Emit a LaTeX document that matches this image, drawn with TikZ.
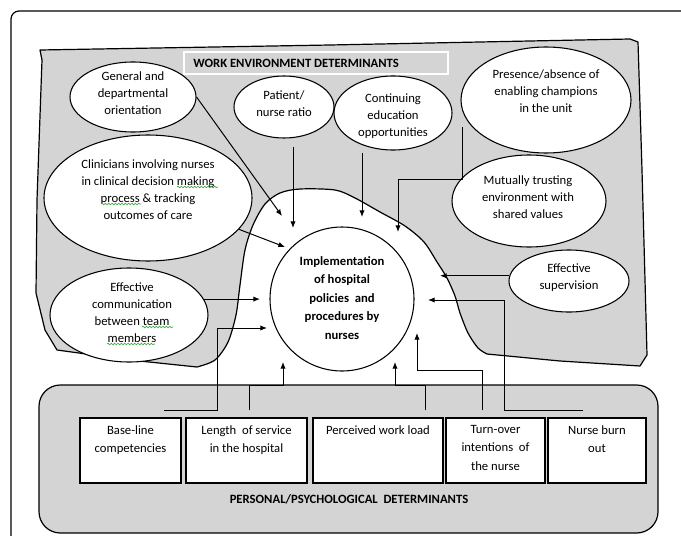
\documentclass[tikz,border=0pt]{standalone}
\usepackage{fontspec}
\setmainfont{Carlito}
\usetikzlibrary{shapes.geometric,arrows.meta,decorations.pathmorphing}
\definecolor{regiongray}{RGB}{212,212,212}
\definecolor{spell}{RGB}{70,170,70}
\begin{document}
\begin{tikzpicture}[x=0.75pt,y=-0.75pt,
  region/.style={draw=black, fill=regiongray, line width=0.9pt, line join=round},
  ell/.style n args={2}{ellipse, draw=black, fill=white, line width=0.8pt,
     minimum width={#1*0.75pt}, minimum height={#2*0.75pt}, inner sep=0pt},
  txt/.style={font=\fontsize{9.5}{12.75}\selectfont, align=center, inner sep=0pt},
  btxt/.style={font=\fontsize{9.5}{13.9}\selectfont\bfseries, align=center, inner sep=0pt},
  boxtxt/.style={font=\fontsize{9.5}{13.9}\selectfont, align=center, inner sep=0pt, anchor=north},
  pbox/.style={draw=black, fill=white, line width=0.8pt, minimum height={65*0.75pt},
     minimum width={#1*0.75pt}, inner sep=0pt},
  arr/.style={draw=black, line width=0.75pt, -{Latex[length=5pt,width=4pt]}},
  spellchk/.style={draw=spell, line width=0.5pt, decorate,
     decoration={snake, amplitude=0.6pt, segment length=2.5pt}}
]
\useasboundingbox (0,0) rectangle (681,535);
\begin{scope}
  \clip (0,0) rectangle (681,535);
  \draw[line width=0.9pt, rounded corners=6pt] (11,11) rectangle (720,580);
\end{scope}

% ---------------- work environment region ----------------
\draw[region] (40,50) -- (330,45) -- (630,39) -- (638,42) -- (642,170) -- (645,280)
  -- (647,355) -- (640,366) -- (560,361) --
  plot[smooth, tension=0.5] coordinates {(487,354) (478,348) (468,333) (460,313)
  (455,296) (447,278) (437,262) (424,242) (405,226) (380,212) (355,198) (335,190)
  (300,189) (280,193) (265,204) (253,225) (245,250) (240,285) (236,315) (228,342)
  (215,360) (197,367)}
  -- (130,360) -- (57,350) -- (45,330) -- (36,293) -- (37,200) -- (42,60) -- cycle;

\node[draw=white, fill=regiongray, line width=0.9pt, minimum width={264*0.75pt},
  minimum height={22*0.75pt}, inner sep=0pt] (wbox) at (316,63) {};
\node[btxt, anchor=west] (wtitle) at (193,63) {WORK ENVIRONMENT DETERMINANTS};

% ellipses
\node[ell={126}{70}] (gen) at (133,97) {};
\node[txt] (gent) at (133,93) {General and\\departmental\\orientation};
\node[ell={100}{62}] (pat) at (284,107) {};
\node[txt] (patt) at (284,104) {Patient/\\nurse ratio};
\node[ell={118}{74}] (cont) at (393,113) {};
\node[txt] (contt) at (393,116) {Continuing\\education\\opportunities};
\node[ell={170}{106}] (pres) at (546,100) {};
\node[txt] (prest) at (546,91) {Presence/absence of\\enabling champions\\in the unit};
\node[ell={208}{126}] (clin) at (148,198) {};
\node[txt] (clint) at (148,190) {Clinicians involving nurses\\in clinical decision making\\process \& tracking\\outcomes of care};
\node[ell={154}{92}] (mut) at (529,201) {};
\node[txt] (mutt) at (528,197) {Mutually trusting\\environment with\\shared values};
\node[ell={120}{62}] (sup) at (569,281) {};
\node[txt] (supt) at (569,278) {Effective\\supervision};
\node[ell={158}{94}] (comm) at (129,315) {};
\node[txt] (commt) at (132,313) {Effective\\communication\\between team\\members};

% spell-check marks
\draw[spellchk] (177,187) -- (218,187);
\draw[spellchk] (101,204) -- (141,204);
\draw[spellchk] (142,327) -- (173,327);
\draw[spellchk] (107,344) -- (155,344);

% central circle
\node[circle, draw=black, fill=white, line width=0.8pt, minimum size={144*0.75pt},
  inner sep=0pt] (impl) at (342,299) {};
\node[btxt] (implt) at (342,298) {Implementation\\of hospital\\policies~ and\\procedures by\\nurses};

% ---------------- personal region ----------------
\draw[region, rounded corners=16pt] (39,385) rectangle (658,533);
\node[pbox=101] (b1) at (130.5,450.5) {};
\node[pbox=121] (b2) at (246.5,450.5) {};
\node[pbox=130] (b3) at (378,450.5) {};
\node[pbox=99]  (b4) at (495.5,450.5) {};
\node[pbox=98]  (b5) at (597,450.5) {};
\node[boxtxt] (b1t) at (130.5,425) {Base-line\\competencies};
\node[boxtxt] (b2t) at (246.5,425) {Length~ of service\\in the hospital};
\node[boxtxt] (b3t) at (378,425) {Perceived work load};
\node[boxtxt] (b4t) at (495.5,425) {Turn-over\\intentions~ of\\the nurse};
\node[boxtxt] (b5t) at (597,425) {Nurse burn\\out};
\node[btxt] (ptitle) at (349,499) {PERSONAL/PSYCHOLOGICAL~ DETERMINANTS};

% ---------------- connectors ----------------
\coordinate (genT) at (282,216);
\draw[arr] (gen.east) -- (genT);
\coordinate (patS) at (293,147);
\coordinate (patT) at (293,228);
\draw[arr] (patS) -- (patT);
\coordinate (contS) at (362,153);
\coordinate (contT) at (362,217);
\draw[arr] (contS) -- (contT);
\coordinate (presS) at (462,127);
\coordinate (presT) at (398,232);
\draw[arr] (presS) -- (462,179) -| (presT);
\coordinate (clinT) at (285,247);
\draw[arr] (clin.-19) -- (clinT);
\coordinate (commT) at (260,299);
\draw[arr] (comm.12) -- (comm.12 -| commT);
\coordinate (supT) at (440,276);
\draw[arr] (sup.175) -- (sup.175 -| supT);

\coordinate (b1S) at (164,410);
\coordinate (b1T) at (267,328);
\draw[arr] (b1S) -- (217,410) |- (b1T);
\coordinate (b2S) at (249,410);
\coordinate (b2T) at (283,362);
\draw[arr] (b2S) -- (249,385) -| (b2T);
\coordinate (b3S) at (425,410);
\coordinate (b3T) at (395,362);
\draw[arr] (b3S) -- (425,385) -| (b3T);
\coordinate (b4S) at (482,410);
\coordinate (b4T) at (417,333);
\draw[arr] (b4S) -- (482,370) -| (b4T);
\coordinate (b5S) at (583,410);
\coordinate (b5T) at (428,300);
\draw[arr] (b5S) -- (504,410) |- (b5T);
\end{tikzpicture}
\end{document}
